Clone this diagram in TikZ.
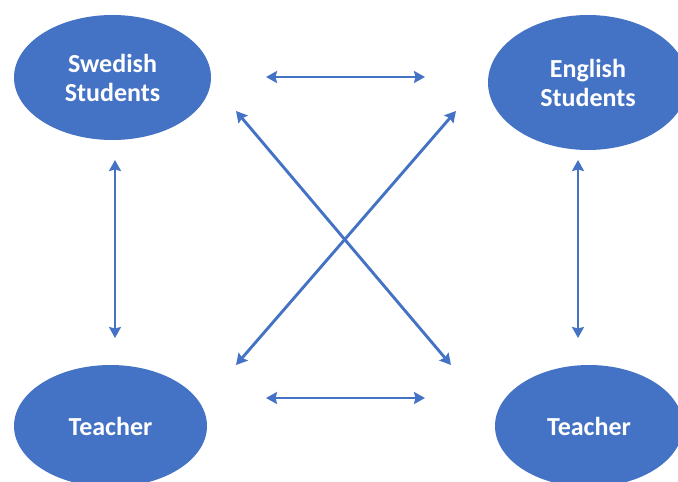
\documentclass[tikz,border=0pt]{standalone}
\usepackage{fontspec}
\setmainfont{Carlito}
\usetikzlibrary{arrows.meta,shapes.geometric}
\definecolor{officeblue}{RGB}{68,114,196}

\tikzset{
 group/.style={ellipse,fill=officeblue,text=white,align=center,inner sep=0pt,
  font=\fontsize{26}{29}\selectfont\bfseries},
 link/.style={{Stealth[length=11pt,width=12pt,inset=1.5pt]}-{Stealth[length=11pt,width=12pt,inset=1.5pt]},
  officeblue,line width=2.9pt}
}

\begin{document}
\begin{tikzpicture}[x=1pt,y=-1pt,line cap=butt]
 \useasboundingbox (0,0) rectangle (678,482);
 \clip (0,0) rectangle (678,482);
 % the four groups
 \node[group,minimum width=197,minimum height=125] (swe) at (112.5,77.5) {Swedish\\Students};
 \node[group,minimum width=200,minimum height=135] (eng) at (588,82.5) {English\\Students};
 \node[group,minimum width=193,minimum height=122] (tswe) at (110.5,426) {Teacher};
 \node[group,minimum width=188,minimum height=122] (teng) at (589,426) {Teacher};
 % arrow ends
 \coordinate (top1) at (266,77);   \coordinate (top2) at (425,77);
 \coordinate (bot1) at (266,398);  \coordinate (bot2) at (425,398);
 \coordinate (lft1) at (115,160);  \coordinate (lft2) at (115,338);
 \coordinate (rgt1) at (578,160);  \coordinate (rgt2) at (578,338);
 \coordinate (dgA1) at (236,111);  \coordinate (dgA2) at (451,365);
 \coordinate (dgB1) at (456,111);  \coordinate (dgB2) at (236,365);
 \draw[link] (top1) -- (top2);
 \draw[link] (bot1) -- (bot2);
 \draw[link] (lft1) -- (lft2);
 \draw[link] (rgt1) -- (rgt2);
 \draw[link] (dgA1) -- (dgA2);
 \draw[link] (dgB1) -- (dgB2);
\end{tikzpicture}
\end{document}
